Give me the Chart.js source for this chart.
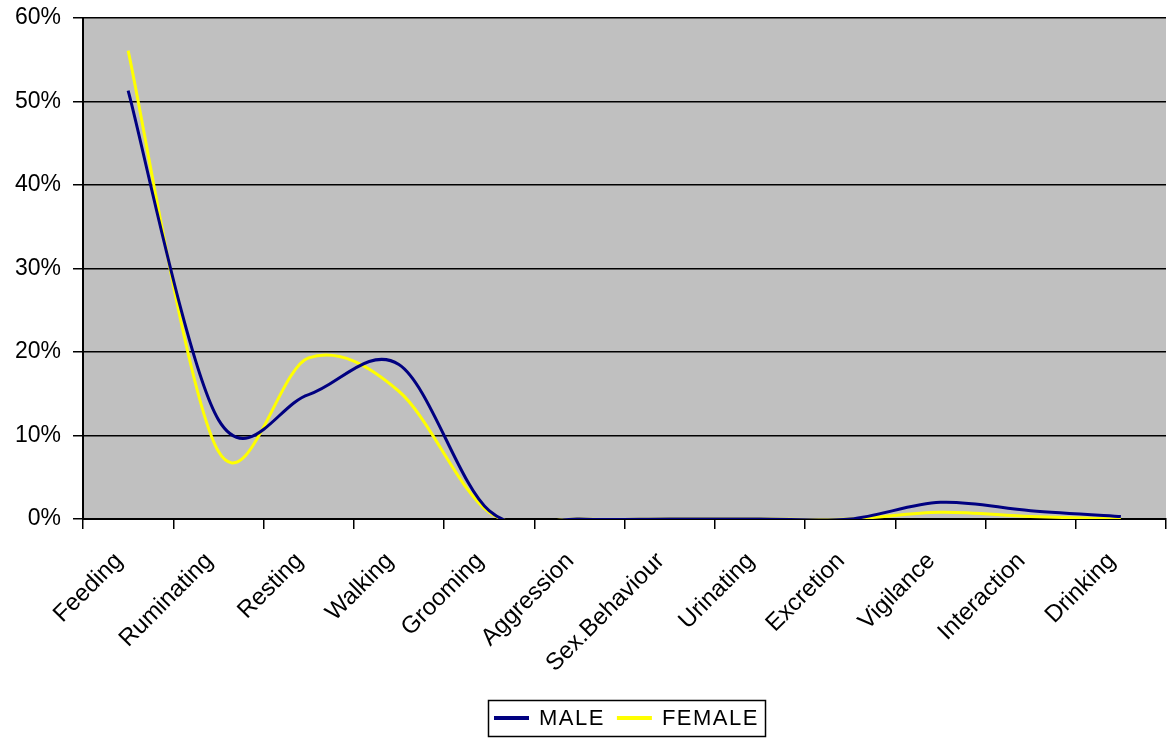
<!DOCTYPE html>
<html>
<head>
<meta charset="utf-8">
<script src="https://cdn.jsdelivr.net/npm/chart.js@4/dist/chart.umd.min.js"></script>
<style>
html,body{margin:0;padding:0;background:#fff;}
#wrap{width:1167px;height:740px;position:relative;}
</style>
</head>
<body>
<div id="wrap"><canvas id="c" width="1167" height="740"></canvas></div>
<script>
const categories = ['Feeding','Ruminating','Resting','Walking','Grooming','Aggression','Sex.Behaviour','Urinating','Excretion','Vigilance','Interaction','Drinking'];
const maleValues = [51.3, 11.9, 14.9, 18.5, 1.0, 0, 0, 0, 0, 2.0, 1.0, 0.3];
const femaleValues = [56.1, 8.1, 19.3, 15.3, 0.8, 0, 0, 0, 0, 0.8, 0.3, 0];
const seriesNames = ['MALE', 'FEMALE'];
const seriesColors = ['#000080', '#FFFF00'];
const yTickValues = [0, 10, 20, 30, 40, 50, 60];

const FONT = "'Liberation Sans', Arial, sans-serif";

// Excel-like smoothing: Catmull-Rom control points from the library-computed point pixels
const excelSmooth = {
  id: 'excelSmooth',
  beforeDatasetDraw(chart, args) {
    const meta = args.meta;
    const line = meta.dataset;
    if (!line) return;
    if (typeof line.updateControlPoints === 'function') {
      line.updateControlPoints(chart.chartArea, meta.iAxis);
    }
    const pts = meta.data;
    const n = pts.length;
    for (let i = 0; i < n; i++) {
      const p = pts[i];
      const prev = pts[Math.max(i - 1, 0)];
      const next = pts[Math.min(i + 1, n - 1)];
      const dx = (next.x - prev.x) / 6;
      const dy = (next.y - prev.y) / 6;
      p.cp1x = p.x - dx; p.cp1y = p.y - dy;
      p.cp2x = p.x + dx; p.cp2y = p.y + dy;
    }
    line._path = undefined;
  }
};

const plotBg = {
  id: 'plotBg',
  beforeDraw(chart) {
    const a = chart.chartArea;
    const ctx = chart.ctx;
    ctx.save();
    ctx.fillStyle = '#C0C0C0';
    ctx.fillRect(a.left, a.top, a.right - a.left, a.bottom - a.top);
    ctx.restore();
  }
};

// Boxed legend below the plot, in the style of the original
const boxedLegend = {
  id: 'boxedLegend',
  afterDraw(chart) {
    const ctx = chart.ctx;
    const fontSize = 22;
    const symW = 35, gapSym = 10, gapItem = 12, padX = 6;
    const cx = 626, cy = 718, boxH = 36;
    ctx.save();
    ctx.font = fontSize + 'px ' + FONT;
    if ('letterSpacing' in ctx) ctx.letterSpacing = '1.5px';
    const widths = seriesNames.map(s => ctx.measureText(s).width);
    let total = padX * 2;
    widths.forEach((w, i) => { total += symW + gapSym + w + (i ? gapItem : 0); });
    let x = Math.round(cx - total / 2);
    const top = cy - boxH / 2;
    ctx.strokeStyle = '#000';
    ctx.lineWidth = 1.5;
    ctx.strokeRect(x + 0.5, top + 0.5, Math.round(total), boxH);
    x += padX;
    ctx.textBaseline = 'middle';
    ctx.textAlign = 'left';
    seriesNames.forEach((s, i) => {
      if (i) x += gapItem;
      ctx.strokeStyle = seriesColors[i];
      ctx.lineWidth = 4;
      ctx.beginPath();
      ctx.moveTo(x, cy);
      ctx.lineTo(x + symW, cy);
      ctx.stroke();
      x += symW + gapSym;
      ctx.fillStyle = '#000';
      ctx.fillText(s, x, cy + 1);
      x += widths[i];
    });
    ctx.restore();
  }
};

const datasets = [maleValues, femaleValues].map((vals, i) => ({
  label: seriesNames[i],
  data: vals,
  borderColor: seriesColors[i],
  backgroundColor: seriesColors[i],
  borderWidth: 3,
  pointRadius: 0,
  pointHoverRadius: 0,
  tension: 0.4,
  fill: false,
  clip: {left: 5, top: 5, right: 5, bottom: 0}
}));

new Chart(document.getElementById('c'), {
  type: 'line',
  data: { labels: categories, datasets },
  plugins: [plotBg, excelSmooth, boxedLegend],
  options: {
    responsive: false,
    animation: false,
    devicePixelRatio: 1,
    layout: { padding: { top: 18, right: 1, bottom: 45, left: 0 } },
    plugins: {
      tooltip: { enabled: false },
      legend: { display: false }
    },
    scales: {
      x: {
        type: 'category',
        offset: true,
        grid: {
          offset: true,
          display: true,
          drawOnChartArea: false,
          drawTicks: true,
          tickLength: 10,
          color: '#000',
          lineWidth: 1.5
        },
        border: { display: true, color: '#000', width: 2 },
        ticks: {
          color: '#000',
          font: { family: FONT, size: 24 },
          maxRotation: 45,
          minRotation: 45,
          autoSkip: false,
          padding: 18,
          labelOffset: -9
        },
        afterFit(s) {
          s.height = 176;
          s.paddingLeft = 0; s.paddingRight = 0; s.paddingTop = 0; s.paddingBottom = 0;
        }
      },
      y: {
        min: 0,
        max: 60,
        afterBuildTicks(s) { s.ticks = yTickValues.map(v => ({ value: v })); },
        grid: {
          color: '#000',
          lineWidth: 1.5,
          drawTicks: true,
          tickLength: 10
        },
        border: { display: true, color: '#000', width: 2 },
        ticks: {
          color: '#000',
          font: { family: FONT, size: 23 },
          padding: 12,
          callback: v => v + '%'
        },
        afterFit(s) {
          s.width = 83;
          s.paddingLeft = 0; s.paddingRight = 0; s.paddingTop = 0; s.paddingBottom = 0;
        }
      }
    }
  }
});
</script>
</body>
</html>
